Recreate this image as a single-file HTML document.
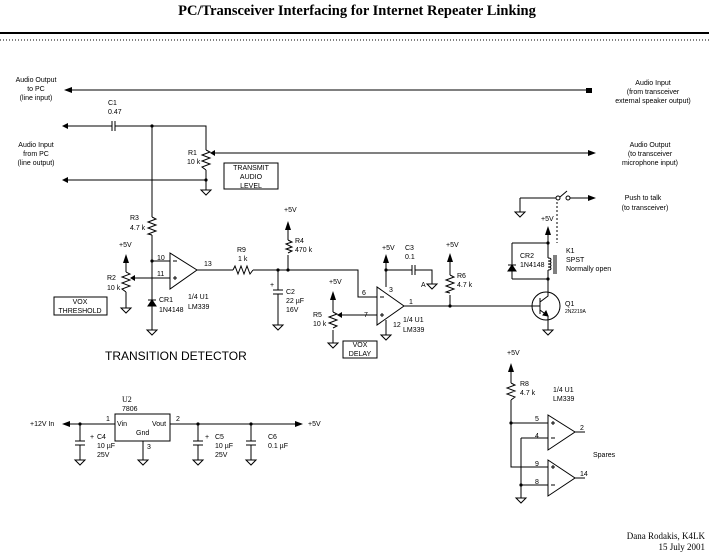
<!DOCTYPE html>
<html><head><meta charset="utf-8"><style>
html,body{margin:0;padding:0;background:#fff;width:709px;height:555px;overflow:hidden}
svg text{font-family:"Liberation Sans",sans-serif;font-size:7px;fill:#000}
</style></head><body>
<svg width="709" height="555" viewBox="0 0 709 555" xmlns="http://www.w3.org/2000/svg" stroke="#000" stroke-width="1" fill="none">
<text x="357" y="15" text-anchor="middle" stroke="none" style="font-family:'Liberation Serif',serif;font-size:14.5px;font-weight:bold">PC/Transceiver Interfacing for Internet Repeater Linking</text>
<line x1="0" y1="33" x2="709" y2="33" stroke-width="2"/>
<line x1="0" y1="40" x2="709" y2="40" stroke-dasharray="1,2"/>

<g stroke="none">
<text x="36" y="82" text-anchor="middle">Audio Output</text><text x="36" y="91" text-anchor="middle">to PC</text><text x="36" y="100" text-anchor="middle">(line input)</text>
<text x="36" y="147" text-anchor="middle">Audio Input</text><text x="36" y="156" text-anchor="middle">from PC</text><text x="36" y="165" text-anchor="middle">(line output)</text>
<text x="653" y="85" text-anchor="middle">Audio Input</text><text x="653" y="94" text-anchor="middle">(from transceiver</text><text x="653" y="103" text-anchor="middle">external speaker output)</text>
<text x="650" y="147" text-anchor="middle">Audio Output</text><text x="650" y="156" text-anchor="middle">(to transceiver</text><text x="650" y="165" text-anchor="middle">microphone input)</text>
<text x="643" y="200" text-anchor="middle">Push to talk</text><text x="645" y="210" text-anchor="middle">(to transceiver)</text>
<text x="108" y="105">C1</text><text x="108" y="114">0.47</text>
<text x="188" y="155">R1</text><text x="187" y="164">10 k</text>
<text x="251" y="170" text-anchor="middle">TRANSMIT</text><text x="251" y="179" text-anchor="middle">AUDIO</text><text x="251" y="188" text-anchor="middle">LEVEL</text>
<text x="130" y="220">R3</text><text x="130" y="230">4.7 k</text>
<text x="119" y="247">+5V</text>
<text x="107" y="280">R2</text><text x="107" y="290">10 k</text>
<text x="80" y="304" text-anchor="middle">VOX</text><text x="80" y="313" text-anchor="middle">THRESHOLD</text>
<text x="157" y="260">10</text><text x="157" y="276">11</text>
<text x="204" y="266">13</text>
<text x="159" y="302">CR1</text><text x="159" y="312">1N4148</text>
<text x="188" y="299">1/4 U1</text><text x="188" y="309">LM339</text>
<text x="237" y="252">R9</text><text x="238" y="261">1 k</text>
<text x="284" y="212">+5V</text>
<text x="295" y="243">R4</text><text x="295" y="252">470 k</text>
<text x="270" y="287">+</text>
<text x="286" y="294">C2</text><text x="286" y="303">22 µF</text><text x="286" y="312">16V</text>
<text x="329" y="284">+5V</text>
<text x="313" y="317">R5</text><text x="313" y="326">10 k</text>
<text x="360" y="347" text-anchor="middle">VOX</text><text x="360" y="356" text-anchor="middle">DELAY</text>
<text x="362" y="295">6</text><text x="364" y="317">7</text><text x="389" y="292">3</text><text x="393" y="327">12</text><text x="409" y="304">1</text>
<text x="403" y="322">1/4 U1</text><text x="403" y="332">LM339</text>
<text x="382" y="250">+5V</text>
<text x="405" y="250">C3</text><text x="405" y="259">0.1</text><text x="421" y="287">A</text>
<text x="446" y="247">+5V</text>
<text x="457" y="278">R6</text><text x="457" y="287">4.7 k</text>
<text x="541" y="221">+5V</text>
<text x="520" y="258">CR2</text><text x="520" y="267">1N4148</text>
<text x="566" y="253">K1</text><text x="566" y="262">SPST</text><text x="566" y="271">Normally open</text>
<text x="565" y="306">Q1</text><text x="565" y="313" style="font-size:5px">2N2219A</text>
<text x="105" y="360" style="font-size:12px">TRANSITION DETECTOR</text>
<text x="122" y="402" style="font-family:'Liberation Serif',serif;font-size:8px">U2</text><text x="122" y="411">7806</text>
<text x="106" y="421">1</text><text x="117" y="426">Vin</text><text x="152" y="426">Vout</text><text x="136" y="435">Gnd</text><text x="147" y="449">3</text><text x="176" y="421">2</text>
<text x="30" y="426">+12V In</text><text x="308" y="426">+5V</text>
<text x="90" y="439">+</text><text x="97" y="439">C4</text><text x="97" y="448">10 µF</text><text x="97" y="457">25V</text>
<text x="205" y="439">+</text><text x="215" y="439">C5</text><text x="215" y="448">10 µF</text><text x="215" y="457">25V</text>
<text x="268" y="439">C6</text><text x="268" y="448">0.1 µF</text>
<text x="507" y="355">+5V</text>
<text x="520" y="386">R8</text><text x="520" y="395">4.7 k</text>
<text x="553" y="392">1/4 U1</text><text x="553" y="401">LM339</text>
<text x="535" y="421">5</text><text x="535" y="438">4</text><text x="535" y="466">9</text><text x="535" y="484">8</text>
<text x="580" y="430">2</text><text x="580" y="476">14</text>
<text x="593" y="457">Spares</text>
<text x="705" y="539" text-anchor="end" style="font-family:'Liberation Serif',serif;font-size:9px">Dana Rodakis, K4LK</text>
<text x="705" y="550" text-anchor="end" style="font-family:'Liberation Serif',serif;font-size:9px">15 July 2001</text>
</g>

<g fill="#000" stroke="none">
<polygon points="64,90 72,87 72,93"/><rect x="586" y="88" width="6" height="5"/>
<polygon points="62,126 68,123 68,129"/><polygon points="62,180 68,177 68,183"/>
<polygon points="596,153 588,150 588,156"/><polygon points="596,198 588,195 588,201"/>
<polygon points="62,424 70,421 70,427"/><polygon points="303,424 295,421 295,427"/>
</g>
<path d="M70 90H588 M66 126H112 M115 126H206V150 M206 170V190 M66 180H206 M214 153H590 M152 126V217 M152 235V330 M152 261H170 M131 278H170 M197 270H233 M253 270H358V297H377 M278 270V290 M278 294V325 M288 230V240 M288 255V270 M342 315H377 M386 287V263 M386 270H412 M415 270H432V284 M386 320V335 M404 306H535 M450 306V295 M450 275V262 M126 262V272 M126 292V308 M333 300V312 M333 330V343 M548 235V258 M548 270V290 M548 322V330 M512 243H548 M512 279H548 M512 243V279 M520 198H556 M520 198V212 M570 198H590 M70 424H115 M170 424H296 M80 424V441 M80 445V460 M143 441V460 M198 424V441 M198 445V460 M251 424V441 M251 445V460 M511 372V383 M511 400V467H548 M511 423H548 M521 438H548 M521 438V498 M521 485H548 M575 432H585 M575 478H585"/>
<path d="M557 202V243" stroke-dasharray="2,2"/>
<path d="M112 121V131 M115 121V131 M412 265V275 M415 265V275 M273 290H283 M273 294H283 M75 441H85 M75 445H85 M193 441H203 M193 445H203 M246 441H256 M246 445H256"/>
<path d="M206 150l4 2l-8 3l8 3l-8 3l8 3l-8 3l4 3 M152 217l4 2l-8 3l8 3l-8 3l8 3l-8 3l4 1 M126 272l4 2l-8 3l8 3l-8 3l8 3l-8 3l4 3 M288 240l4 2l-6 2l6 3l-6 2l6 2l-4 2 M333 312l4 2l-8 3l8 3l-8 3l8 3l-4 2 M450 275l4 2l-8 3l8 3l-8 3l8 3l-8 3l4 1 M511 383l4 2l-8 3l8 3l-8 3l8 3l-4 3 M233 270l2 -4l3 8l3 -8l3 8l3 -8l3 8l3-4"/>
<g fill="#000" stroke="none"><polygon points="210,153 215,150 215,156"/><polygon points="130,278 135,275 135,281"/><polygon points="337,315 342,312 342,318"/></g>
<g fill="#000" stroke="none">
<circle cx="152" cy="126" r="1.6"/><circle cx="206" cy="180" r="1.6"/><circle cx="152" cy="261" r="1.6"/><circle cx="278" cy="270" r="1.6"/><circle cx="288" cy="270" r="1.6"/><circle cx="386" cy="270" r="1.6"/><circle cx="450" cy="306" r="1.6"/><circle cx="548" cy="243" r="1.6"/><circle cx="548" cy="279" r="1.6"/><circle cx="80" cy="424" r="1.6"/><circle cx="198" cy="424" r="1.6"/><circle cx="251" cy="424" r="1.6"/><circle cx="511" cy="423" r="1.6"/><circle cx="521" cy="485" r="1.6"/>
</g>
<g fill="#000" stroke="none">
<polygon points="126,254 123,263 129,263"/><polygon points="288,221 285,230 291,230"/><polygon points="333,291 330,300 336,300"/><polygon points="386,254 383,263 389,263"/><polygon points="450,253 447,262 453,262"/><polygon points="548,226 545,235 551,235"/><polygon points="511,363 508,372 514,372"/>
</g>
<path d="M201 190h10l-5 5z M147 330h10l-5 5z M121 308h10l-5 5z M273 325h10l-5 5z M427 284h10l-5 5z M381 335h10l-5 5z M328 343h10l-5 5z M543 330h10l-5 5z M515 212h10l-5 5z M75 460h10l-5 5z M138 460h10l-5 5z M193 460h10l-5 5z M246 460h10l-5 5z M516 498h10l-5 5z"/>
<rect x="224" y="163" width="54" height="26"/><rect x="54" y="297" width="53" height="18"/><rect x="343" y="341" width="34" height="17"/><rect x="115" y="414" width="55" height="27"/>
<path d="M170 253V289L197 270Z M377 287V325L404 306Z M548 415V450L575 432Z M548 460V496L575 478Z"/>
<path d="M173 261h4 M173 278h4 M175 276v4 M380 297h4 M380 315h4 M382 313v4 M551 423h4 M553 421v4 M551 438h4 M551 467h4 M553 465v4 M551 485h4"/>
<path d="M148 300h8 M148 306h8l-4-6z" fill="#000"/>
<path d="M508 265h8 M508 271h8l-4-6z" fill="#000"/>
<path d="M548 258c4 0 4 3 0 3c4 0 4 3 0 3c4 0 4 3 0 3c4 0 4 3 0 3 M554 255V274 M556 255V274"/>
<circle cx="558" cy="198" r="2" fill="#fff"/><circle cx="568" cy="198" r="2" fill="#fff"/>
<path d="M560 197L567 191"/>
<circle cx="546" cy="306" r="14"/>
<path d="M535 306H540 M540 298V314 M540 302L548 296V290 M540 310L548 316V322"/>
<polygon points="548,316 543,315 546,311" fill="#000"/>
</svg>
</body></html>
